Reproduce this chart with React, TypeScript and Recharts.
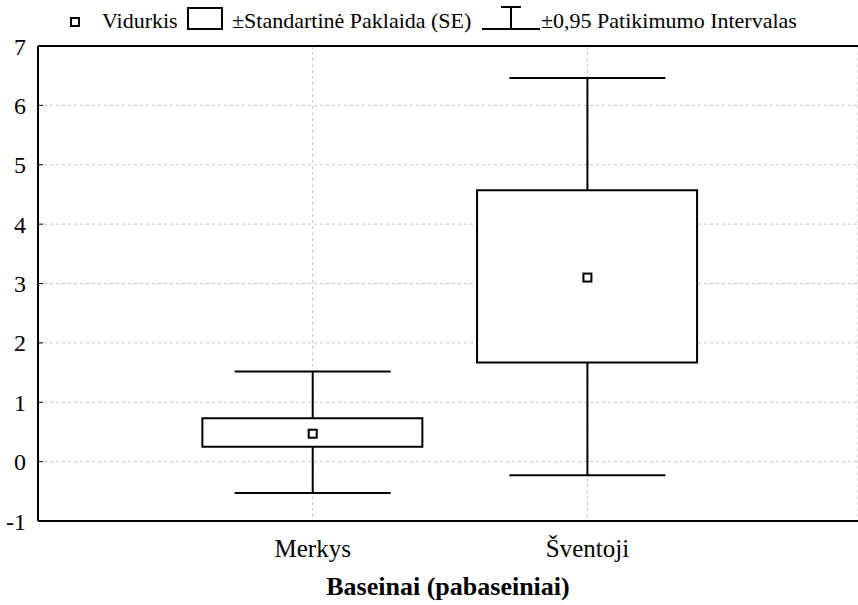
import React from "react";
import {
  ComposedChart,
  Bar,
  Scatter,
  XAxis,
  YAxis,
  CartesianGrid,
  ReferenceLine,
} from "recharts";

// Vidurkis, ±SE ir ±0,95 patikimumo intervalas pagal baseinus
const categories = ["Merkys", "Šventoji"];
const means = [0.47, 3.1];
const seLow = [0.25, 1.67];
const seHigh = [0.73, 4.57];
const ciLow = [-0.53, -0.23];
const ciHigh = [1.52, 6.46];
const yTicks = [-1, 0, 1, 2, 3, 4, 5, 6, 7];

const boxData = categories.map((c, i) => ({ x: i + 1, name: c, se: [seLow[i], seHigh[i]] }));
const meanData = categories.map((c, i) => ({ x: i + 1, y: means[i] }));
// whisker segments outside the box, cap only on the outer end
const whiskers = categories.flatMap((c, i) => [
  [
    { x: i + 1, y: ciLow[i], cap: true },
    { x: i + 1, y: seLow[i], cap: false },
  ],
  [
    { x: i + 1, y: seHigh[i], cap: false },
    { x: i + 1, y: ciHigh[i], cap: true },
  ],
]);

const FONT = "'Liberation Serif', 'Times New Roman', serif";

// eslint-disable-next-line @typescript-eslint/no-explicit-any
const Cap = (props: any) => {
  const { cx, cy, payload } = props;
  if (!payload?.cap) return <g />;
  return <line x1={cx - 78} x2={cx + 78} y1={cy} y2={cy} stroke="#000" strokeWidth={2} />;
};

// eslint-disable-next-line @typescript-eslint/no-explicit-any
const MeanMark = (props: any) => {
  const { cx, cy } = props;
  return <rect x={cx - 4} y={cy - 4} width={8} height={8} fill="#fff" stroke="#000" strokeWidth={2} />;
};

function LegendRow() {
  return (
    <svg width={858} height={40} style={{ position: "absolute", left: 0, top: 0 }} fontFamily={FONT}>
      <rect x={71} y={18} width={8} height={8} fill="#fff" stroke="#000" strokeWidth={2} />
      <text x={102} y={28} fontSize={22} fill="#000">Vidurkis</text>
      <rect x={188} y={8} width={34} height={21} fill="#fff" stroke="#000" strokeWidth={2} />
      <text x={232} y={28} fontSize={22} fill="#000">±Standartinė Paklaida (SE)</text>
      <line x1={501} x2={521} y1={7} y2={7} stroke="#000" strokeWidth={2} />
      <line x1={511} x2={511} y1={7} y2={29} stroke="#000" strokeWidth={2} />
      <line x1={482} x2={540} y1={29} y2={29} stroke="#000" strokeWidth={2} />
      <text x={541} y={28} fontSize={22} fill="#000">±0,95 Patikimumo Intervalas</text>
    </svg>
  );
}

export default function App() {
  return (
    <div style={{ position: "absolute", left: 0, top: 0, width: 858, height: 605, background: "#fff", overflow: "hidden" }}>
      <LegendRow />
      <ComposedChart
        width={858}
        height={605}
        data={boxData}
        margin={{ top: 46, right: 0, bottom: 0, left: 0 }}
        style={{ fontFamily: FONT }}
      >
        <CartesianGrid stroke="#c4c4c4" strokeDasharray="3 3" />
        <XAxis
          type="number"
          dataKey="x"
          domain={[0, 2.985]}
          ticks={[1, 2]}
          allowDataOverflow
          tickFormatter={(v: number) => categories[v - 1]}
          height={84}
          tickLine={false}
          tickMargin={12}
          axisLine={{ stroke: "#000", strokeWidth: 2 }}
          tick={{ fill: "#000", fontSize: 25, fontFamily: FONT }}
          label={{
            value: "Baseinai (pabaseiniai)",
            position: "insideBottom",
            offset: 10,
            fill: "#000",
            fontSize: 26,
            fontWeight: 700,
            fontFamily: FONT,
          }}
        />
        <YAxis
          type="number"
          domain={[-1, 7]}
          ticks={yTicks}
          interval={0}
          width={38}
          tickSize={-5}
          tickMargin={17}
          tickLine={{ stroke: "#000", strokeWidth: 1 }}
          axisLine={{ stroke: "#000", strokeWidth: 2 }}
          tick={{ fill: "#000", fontSize: 24, fontFamily: FONT }}
        />
        <ReferenceLine y={7} stroke="#000" strokeWidth={2} />
        {whiskers.map((seg, k) => (
          <Scatter
            key={k}
            data={seg}
            dataKey="y"
            line={{ stroke: "#000", strokeWidth: 2 }}
            lineType="joint"
            shape={<Cap />}
            isAnimationActive={false}
          />
        ))}
        <Bar
          dataKey="se"
          barSize={220}
          fill="#fff"
          stroke="#000"
          strokeWidth={2}
          isAnimationActive={false}
        />
        <Scatter data={meanData} dataKey="y" shape={<MeanMark />} isAnimationActive={false} />
      </ComposedChart>
    </div>
  );
}
